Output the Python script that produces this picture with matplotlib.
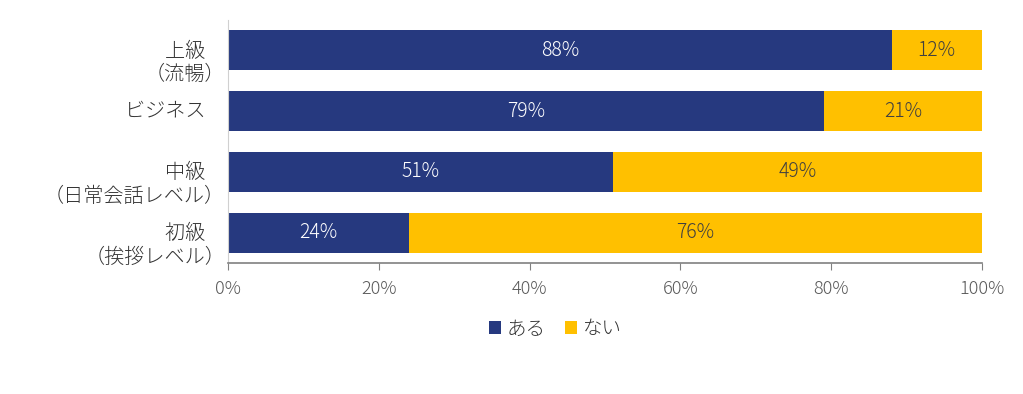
import matplotlib
matplotlib.use("Agg")
import matplotlib.pyplot as plt
from matplotlib.ticker import PercentFormatter
from matplotlib.transforms import ScaledTranslation

plt.rcParams['font.family'] = ['Noto Sans CJK JP', 'DejaVu Sans']
plt.rcParams['font.weight'] = 'light'

categories = ["上級　\n（流暢）", "ビジネス　", "中級　\n（日常会話レベル）", "初級　\n（挨拶レベル）"]
aru = [88, 79, 51, 24]
nai = [12, 21, 49, 76]
series_names = ["ある", "ない"]
colors = ["#26397F", "#FFC000"]

fig = plt.figure(figsize=(10.23, 3.94), dpi=100)
ax = fig.add_axes([0.2229, 0.3325, 0.7370, 0.6167])

y = list(range(len(categories)))
b1 = ax.barh(y, aru, height=0.66, color=colors[0], label=series_names[0])
b2 = ax.barh(y, nai, left=aru, height=0.66, color=colors[1], label=series_names[1])

for rect, v in zip(b1, aru):
    ax.text(rect.get_x() + rect.get_width() / 2, rect.get_y() + rect.get_height() / 2,
            f"{v}%", ha="center", va="center", color="white", fontsize=14)
for rect, v in zip(b2, nai):
    ax.text(rect.get_x() + rect.get_width() / 2, rect.get_y() + rect.get_height() / 2,
            f"{v}%", ha="center", va="center", color="#404040", fontsize=14)

ax.set_xlim(0, 100)
ax.set_ylim(3.5, -0.5)
ax.set_yticks(y)
ax.set_yticklabels(categories, fontsize=14.5, color="#333333", linespacing=1.15)
ax.tick_params(axis="y", length=0, pad=2)
for lab, txt in zip(ax.get_yticklabels(), categories):
    if "\n" in txt:
        lab.set_transform(lab.get_transform() + ScaledTranslation(0, -0.09, fig.dpi_scale_trans))
    else:
        lab.set_transform(lab.get_transform() + ScaledTranslation(0, 0.03, fig.dpi_scale_trans))
ax.set_xticks([0, 20, 40, 60, 80, 100])
ax.xaxis.set_major_formatter(PercentFormatter(decimals=0))
ax.tick_params(axis="x", direction="out", length=5, color="#808080", labelsize=13,
               labelcolor="#595959", pad=7)

for s in ["top", "right"]:
    ax.spines[s].set_visible(False)
ax.spines["left"].set_color("#D0D0D0")
ax.spines["bottom"].set_color("#808080")
ax.spines["bottom"].set_linewidth(1.2)

fig.legend(handles=[b1, b2], labels=series_names, loc="center", bbox_to_anchor=(0.543, 0.165),
           ncol=2, frameon=False, fontsize=14, handlelength=0.6, handleheight=0.6,
           handletextpad=0.3, columnspacing=1.0, labelcolor="#333333")

fig.savefig("out.png", dpi=100)
